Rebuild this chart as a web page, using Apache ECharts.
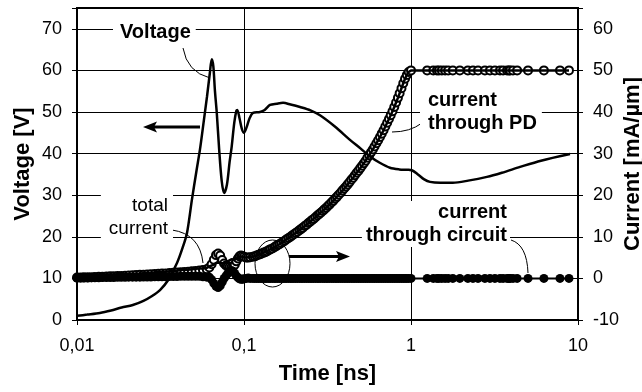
<!DOCTYPE html>
<html>
<head>
<meta charset="utf-8">
<script src="https://cdn.jsdelivr.net/npm/echarts@6/dist/echarts.min.js"></script>
<style>
html,body{margin:0;padding:0;background:#fff;}
#c{width:642px;height:392px;}
</style>
</head>
<body>
<div id="c"></div>
<script>
// ---- Data ----
// Time axis ticks (ns)
const timeTicks = [0.01, 0.1, 1, 10];

// Sample times shared by the current series (ns)
const currentTime = [
  0.0100, 0.0105, 0.0110, 0.0116, 0.0122, 0.0128, 0.0135, 0.0142, 0.0150, 0.0158,
  0.0166, 0.0175, 0.0184, 0.0194, 0.0204, 0.0215, 0.0226, 0.0238, 0.0250, 0.0263,
  0.0277, 0.0292, 0.0307, 0.0323, 0.0340, 0.0358, 0.0377, 0.0397, 0.0418, 0.0440,
  0.0463, 0.0487, 0.0513, 0.0540, 0.0568, 0.0598, 0.0620, 0.0640, 0.0660, 0.0680,
  0.0700, 0.0720, 0.0740, 0.0760, 0.0780, 0.0800, 0.0820, 0.0840, 0.0860, 0.0880,
  0.0900, 0.0920, 0.0940, 0.0960, 0.0980, 0.1000, 0.1030, 0.1060, 0.1090, 0.113,
  0.116, 0.119, 0.122, 0.125, 0.128, 0.131, 0.134, 0.137, 0.141, 0.144,
  0.148, 0.152, 0.155, 0.159, 0.163, 0.167, 0.172, 0.176, 0.180, 0.185,
  0.190, 0.194, 0.199, 0.204, 0.209, 0.215, 0.220, 0.225, 0.231, 0.237,
  0.243, 0.249, 0.255, 0.261, 0.268, 0.275, 0.281, 0.288, 0.296, 0.303,
  0.311, 0.318, 0.326, 0.335, 0.343, 0.352, 0.360, 0.369, 0.379, 0.388,
  0.398, 0.408, 0.418, 0.428, 0.439, 0.450, 0.461, 0.473, 0.485, 0.497,
  0.509, 0.522, 0.535, 0.548, 0.562, 0.576, 0.591, 0.605, 0.621, 0.636,
  0.652, 0.668, 0.685, 0.702, 0.720, 0.738, 0.756, 0.775, 0.794, 0.814,
  0.835, 0.855, 0.877, 0.899, 0.921, 0.944, 0.968, 1.000, 1.25, 1.36,
  1.43, 1.47, 1.53, 1.60, 1.67, 1.78, 1.96, 2.19, 2.35, 2.52,
  2.77, 2.97, 3.18, 3.41, 3.56, 3.76, 3.86, 3.92, 4.08, 4.32,
  5.02, 6.25, 7.80, 8.83
];

// Current through PD (mA/um), open circles
const currentPD = [
  0.2, 0.2, 0.25, 0.3, 0.3, 0.35, 0.4, 0.4, 0.45, 0.5,
  0.5, 0.55, 0.6, 0.65, 0.7, 0.75, 0.8, 0.85, 0.9, 0.95,
  1.0, 1.05, 1.1, 1.15, 1.2, 1.3, 1.35, 1.4, 1.5, 1.55,
  1.6, 1.7, 1.8, 1.9, 2.0, 2.2, 2.6, 3.4, 4.5, 5.6,
  6.0, 5.5, 4.4, 3.6, 3.1, 2.9, 2.8, 2.7, 2.8, 3.3,
  4.1, 4.8, 5.3, 5.5, 5.4, 5.2, 5.0, 5.0, 5.1, 5.2,
  5.3, 5.5, 5.7, 5.8, 6.0, 6.2, 6.3, 6.5, 6.8, 7.0,
  7.2, 7.5, 7.7, 8.0, 8.2, 8.5, 8.8, 9.1, 9.4, 9.7,
  10.0, 10.3, 10.6, 10.9, 11.2, 11.6, 11.9, 12.2, 12.6, 12.9,
  13.3, 13.6, 14.0, 14.3, 14.7, 15.1, 15.4, 15.8, 16.2, 16.6,
  17.0, 17.4, 17.8, 18.3, 18.7, 19.2, 19.6, 20.1, 20.6, 21.1,
  21.6, 22.1, 22.6, 23.1, 23.7, 24.2, 24.8, 25.4, 25.9, 26.5,
  27.1, 27.7, 28.3, 29.0, 29.6, 30.3, 31.0, 31.7, 32.5, 33.2,
  34.0, 34.8, 35.6, 36.5, 37.4, 38.3, 39.2, 40.2, 41.2, 42.3,
  43.4, 44.5, 45.7, 46.9, 48.0, 48.9, 49.6, 50.0, 50, 50,
  50, 50, 50, 50, 50, 50, 50, 50, 50, 50,
  50, 50, 50, 50, 50, 50, 50, 50, 50, 50,
  50, 50, 50, 50
];

// Current through circuit (mA/um), filled circles
const currentCircuit = [
  0.1, 0.1, 0.1, 0.1, 0.15, 0.15, 0.15, 0.2, 0.2, 0.2,
  0.2, 0.25, 0.25, 0.25, 0.3, 0.3, 0.3, 0.3, 0.35, 0.35,
  0.35, 0.4, 0.4, 0.4, 0.4, 0.45, 0.45, 0.45, 0.5, 0.5,
  0.5, 0.5, 0.5, 0.5, 0.4, 0.3, 0.3, -0.3, -1.2, -1.9,
  -2.2, -1.8, -0.9, 0.0, 0.6, 1.2, 1.7, 1.9, 1.7, 1.2,
  0.6, 0.2, -0.1, -0.2, -0.2, -0.1, 0.0, 0.1, 0.0, 0.0,
  0, 0, 0, 0, 0, 0, 0, 0, 0, 0,
  0, 0, 0, 0, 0, 0, 0, 0, 0, 0,
  0, 0, 0, 0, 0, 0, 0, 0, 0, 0,
  0, 0, 0, 0, 0, 0, 0, 0, 0, 0,
  0, 0, 0, 0, 0, 0, 0, 0, 0, 0,
  0, 0, 0, 0, 0, 0, 0, 0, 0, 0,
  0, 0, 0, 0, 0, 0, 0, 0, 0, 0,
  0, 0, 0, 0, 0, 0, 0, 0, 0, 0,
  0, 0, 0, 0, 0, 0, 0, 0, 0, 0,
  0, 0, 0, 0, 0, 0, 0, 0, 0, 0,
  0, 0, 0, 0, 0, 0, 0, 0, 0, 0,
  0, 0, 0, 0
];

// Total current (mA/um), solid line
const currentTotal = [
  0.3, 0.3, 0.35, 0.4, 0.45, 0.5, 0.55, 0.6, 0.65, 0.7,
  0.7, 0.8, 0.85, 0.9, 1.0, 1.05, 1.1, 1.15, 1.25, 1.3,
  1.35, 1.45, 1.5, 1.55, 1.6, 1.75, 1.8, 1.85, 2.0, 2.05,
  2.1, 2.2, 2.3, 2.4, 2.4, 2.5, 2.9, 3.1, 3.3, 3.7,
  3.8, 3.7, 3.5, 3.6, 3.7, 4.1, 4.5, 4.6, 4.5, 4.5,
  4.7, 5.0, 5.2, 5.3, 5.2, 5.1, 5.0, 5.1, 5.1, 5.2,
  5.3, 5.5, 5.7, 5.8, 6.0, 6.2, 6.3, 6.5, 6.8, 7.0,
  7.2, 7.5, 7.7, 8.0, 8.2, 8.5, 8.8, 9.1, 9.4, 9.7,
  10.0, 10.3, 10.6, 10.9, 11.2, 11.6, 11.9, 12.2, 12.6, 12.9,
  13.3, 13.6, 14.0, 14.3, 14.7, 15.1, 15.4, 15.8, 16.2, 16.6,
  17.0, 17.4, 17.8, 18.3, 18.7, 19.2, 19.6, 20.1, 20.6, 21.1,
  21.6, 22.1, 22.6, 23.1, 23.7, 24.2, 24.8, 25.4, 25.9, 26.5,
  27.1, 27.7, 28.3, 29.0, 29.6, 30.3, 31.0, 31.7, 32.5, 33.2,
  34.0, 34.8, 35.6, 36.5, 37.4, 38.3, 39.2, 40.2, 41.2, 42.3,
  43.4, 44.5, 45.7, 46.9, 48.0, 48.9, 49.6, 50.0, 50, 50,
  50, 50, 50, 50, 50, 50, 50, 50, 50, 50,
  50, 50, 50, 50, 50, 50, 50, 50, 50, 50,
  50, 50, 50, 50
];

// Voltage (V) vs time (ns)
const voltageTime = [
  0.0100, 0.0115, 0.0137, 0.0160, 0.0185, 0.0216, 0.0250, 0.0280, 0.0314, 0.0350,
  0.0397, 0.0430, 0.0456, 0.0488, 0.0520, 0.0545, 0.0575, 0.0600, 0.0625, 0.0641,
  0.0655, 0.0670, 0.0687, 0.0710, 0.0735, 0.0760, 0.0790, 0.0820, 0.0844, 0.0875,
  0.0900, 0.0912, 0.0940, 0.0970, 0.1000, 0.1040, 0.1080, 0.1132, 0.1247, 0.1330,
  0.1432, 0.1570, 0.1713, 0.1900, 0.2165, 0.2500, 0.2850, 0.3500, 0.4310, 0.5000,
  0.5680, 0.6500, 0.7480, 0.8500, 0.9500, 1.0100, 1.1000, 1.2000, 1.3000, 1.5000,
  1.7800, 2.2000, 2.8500, 3.5000, 4.5000, 6.0000, 8.9600
];
const voltage = [
  1.0, 1.3, 1.7, 2.3, 3.0, 3.6, 4.6, 5.7, 7.2, 9.5,
  13.7, 17.5, 21.0, 29.0, 36.0, 41.0, 48.0, 53.6, 59.5, 62.7,
  61.0, 55.0, 49.8, 41.0, 33.5, 30.5, 32.5, 38.0, 41.7, 47.5,
  50.3, 50.5, 48.5, 46.0, 45.0, 46.5, 48.5, 49.8, 50.0, 50.5,
  51.7, 52.0, 52.2, 51.8, 51.2, 50.4, 49.2, 46.5, 43.3, 41.2,
  39.3, 37.8, 36.6, 36.2, 36.1, 36.0, 35.0, 33.8, 33.2, 33.0,
  33.0, 33.5, 34.4, 35.4, 36.8, 38.3, 39.9
];

// Axis ranges / ticks
const voltageTicks = [0, 10, 20, 30, 40, 50, 60, 70];
const currentTicks = [-10, 0, 10, 20, 30, 40, 50, 60];

// ---- Chart ----
const FONT = 'Arial, "Liberation Sans", sans-serif';
const pair = (xs, ys) => xs.map((x, i) => [x, ys[i]]);

const chart = echarts.init(document.getElementById('c'), null, {renderer: 'canvas'});

const axisCommon = {
  axisLine: {show: true, onZero: false, lineStyle: {color: '#000', width: 2}},
  axisTick: {show: true, inside: false, length: 5, lineStyle: {color: '#000', width: 1}},
  nameMoveOverlap: false,
  nameTextStyle: {fontSize: 22, fontWeight: 'bold', color: '#000', fontFamily: FONT}
};

const option = {
  animation: false,
  backgroundColor: '#fff',
  grid: {left: 77, right: 64, top: 8, bottom: 72, containLabel: false, outerBoundsMode: 'none',
    show: true, borderColor: '#000', borderWidth: 2, backgroundColor: 'transparent'},
  xAxis: Object.assign({}, axisCommon, {
    type: 'log', logBase: 10, min: timeTicks[0], max: timeTicks[timeTicks.length - 1],
    splitLine: {show: true, lineStyle: {color: '#000', width: 1}},
    minorTick: {show: false}, minorSplitLine: {show: false},
    axisLabel: {color: '#000', fontSize: 18, fontFamily: FONT, margin: 17,
      formatter: v => String(Math.round(v * 1000) / 1000).replace('.', ',')},
    name: 'Time [ns]', nameLocation: 'middle', nameGap: 43
  }),
  yAxis: [
    Object.assign({}, axisCommon, {
      type: 'value', position: 'left', min: voltageTicks[0], max: 75, interval: 10,
      splitLine: {show: true, lineStyle: {color: '#000', width: 1}},
      axisLabel: {color: '#000', fontSize: 18, fontFamily: FONT, margin: 15,
        formatter: v => (voltageTicks.indexOf(v) >= 0 ? String(v) : '')},
      name: 'Voltage [V]', nameLocation: 'middle', nameRotate: 90, nameGap: 43
    }),
    Object.assign({}, axisCommon, {
      type: 'value', position: 'right', min: currentTicks[0], max: 65, interval: 10,
      splitLine: {show: false},
      axisLabel: {color: '#000', fontSize: 18, fontFamily: FONT, margin: 15,
        formatter: v => (currentTicks.indexOf(v) >= 0 ? String(v) : '')},
      name: 'Current [mA/µm]', nameLocation: 'middle', nameRotate: 90, nameGap: 44
    })
  ],
  series: [
    {
      name: 'current through PD', type: 'line', yAxisIndex: 1,
      data: pair(currentTime, currentPD),
      symbol: 'emptyCircle', symbolSize: 8, showSymbol: true,
      itemStyle: {color: '#000', borderWidth: 1},
      lineStyle: {opacity: 0, width: 0},
      emphasis: {disabled: true}, z: 3
    },
    {
      name: 'current through circuit', type: 'line', yAxisIndex: 1,
      data: pair(currentTime, currentCircuit),
      symbol: 'circle', symbolSize: 9, showSymbol: true,
      itemStyle: {color: '#000'},
      lineStyle: {color: '#000', width: 2},
      emphasis: {disabled: true}, z: 4
    },
    {
      name: 'total current', type: 'line', yAxisIndex: 1,
      data: pair(currentTime, currentTotal),
      showSymbol: false,
      lineStyle: {color: '#000', width: 2.5},
      emphasis: {disabled: true}, z: 5
    },
    {
      name: 'Voltage', type: 'line', yAxisIndex: 0,
      data: pair(voltageTime, voltage),
      showSymbol: false, smooth: 0.3,
      lineStyle: {color: '#000', width: 2.5},
      emphasis: {disabled: true}, z: 6
    }
  ],
  graphic: [
    // Voltage label + leader
    {type: 'bezierCurve', z: 50, shape: {x1: 183, y1: 48, x2: 210, y2: 78, cpx1: 187, cpy1: 72},
      style: {stroke: '#000', lineWidth: 1, fill: null}},
    {type: 'text', z: 60, x: 113, y: 22,
      style: {text: 'Voltage', font: 'bold 20px ' + FONT, fill: '#000', backgroundColor: '#fff', padding: [0, 5, 0, 7]}},
    // left arrow
    {type: 'line', z: 50, shape: {x1: 200, y1: 127, x2: 153, y2: 127}, style: {stroke: '#000', lineWidth: 3}},
    {type: 'polygon', z: 50, shape: {points: [[143, 127], [157, 121.5], [154, 127], [157, 132.5]]}, style: {fill: '#000'}},
    // current through PD
    {type: 'bezierCurve', z: 50, shape: {x1: 422, y1: 123, x2: 392, y2: 132, cpx1: 410, cpy1: 132},
      style: {stroke: '#000', lineWidth: 1, fill: null}},
    {type: 'text', z: 60, x: 420, y: 89,
      style: {text: 'current\nthrough PD', font: 'bold 20px ' + FONT, lineHeight: 23, fill: '#000', backgroundColor: '#fff', padding: [0, 5, 0, 8]}},
    // total current
    {type: 'bezierCurve', z: 50, shape: {x1: 172, y1: 230, x2: 203, y2: 263, cpx1: 200, cpy1: 234},
      style: {stroke: '#000', lineWidth: 1, fill: null}},
    {type: 'text', z: 60, x: 173, y: 193,
      style: {text: 'total\ncurrent', font: '19px ' + FONT, lineHeight: 23, align: 'right', fill: '#000', backgroundColor: '#fff', padding: [1, 5, 1, 8]}},
    // ellipse + right arrow
    {type: 'ellipse', z: 50, shape: {cx: 272.5, cy: 263.5, rx: 17.5, ry: 23.5}, style: {stroke: '#000', lineWidth: 1, fill: null}},
    {type: 'line', z: 50, shape: {x1: 289, y1: 256.5, x2: 340, y2: 256.5}, style: {stroke: '#000', lineWidth: 3}},
    {type: 'polygon', z: 50, shape: {points: [[350, 256.5], [336, 251], [339, 256.5], [336, 262]]}, style: {fill: '#000'}},
    // current through circuit
    {type: 'bezierCurve', z: 50, shape: {x1: 511, y1: 240, x2: 528, y2: 273, cpx1: 527, cpy1: 245},
      style: {stroke: '#000', lineWidth: 1, fill: null}},
    {type: 'text', z: 60, x: 510, y: 201,
      style: {text: 'current\nthrough circuit', font: 'bold 20px ' + FONT, lineHeight: 23, align: 'right', fill: '#000', backgroundColor: '#fff', padding: [0, 3, 0, 4]}}
  ]
};
chart.setOption(option);
</script>
</body>
</html>
